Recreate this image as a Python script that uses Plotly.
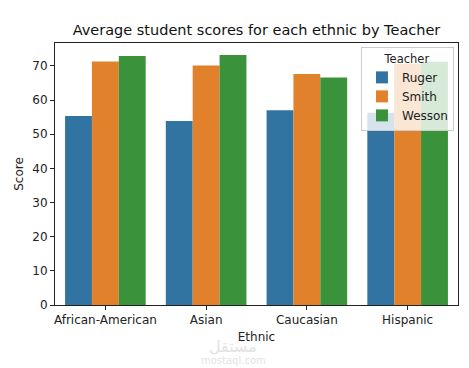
import plotly.graph_objects as go

categories = ["African-American", "Asian", "Caucasian", "Hispanic"]
teachers = ["Ruger", "Smith", "Wesson"]
ruger = [55.3, 53.9, 57.0, 56.3]
smith = [71.3, 70.1, 67.6, 70.6]
wesson = [72.9, 73.2, 66.6, 71.2]
y_ticks = [0, 10, 20, 30, 40, 50, 60, 70]

series = [ruger, smith, wesson]
colors = ["#3274A1", "#E1812C", "#3A923A"]

fig = go.Figure()
for name, vals, c in zip(teachers, series, colors):
    fig.add_trace(go.Bar(x=categories, y=vals, name=name, marker=dict(color=c, line=dict(width=0))))

font = "DejaVu Sans, sans-serif"
W, H = 461, 360
fig.update_layout(
    width=W, height=H,
    margin=dict(l=47, r=11, t=35, b=63, autoexpand=False),
    paper_bgcolor="white", plot_bgcolor="white",
    barmode="group", bargap=0.2, bargroupgap=0,
    font=dict(family=font, size=12, color="#222"),
    title=dict(text="Average student scores for each ethnic by Teacher", x=(47 + 201.5) / W, xanchor="center",
               y=1 - 22 / H, yanchor="middle", font=dict(size=14.5, color="#111")),
    legend=dict(title=dict(text="Teacher", side="top center", font=dict(size=11.5)),
                x=0.99, xanchor="right", y=0.985, yanchor="top",
                bgcolor="rgba(255,255,255,0.8)", bordercolor="#cccccc", borderwidth=1,
                font=dict(size=12), itemwidth=30, tracegroupgap=0),
    showlegend=True,
)
fig.update_xaxes(range=[-0.5, 3.5], showline=True, linecolor="#222", linewidth=1, mirror=True,
                 ticks="outside", ticklen=4, tickcolor="#222", showgrid=False, automargin=False,
                 tickfont=dict(size=12),
                 title=dict(text="Ethnic", standoff=6, font=dict(size=12)))
fig.update_yaxes(range=[0, 76.7], tickvals=y_ticks, showline=True, linecolor="#222", linewidth=1,
                 mirror=True, ticks="outside", ticklen=4, tickcolor="#222", showgrid=False,
                 tickfont=dict(size=12),
                 zeroline=False, automargin=False, title=dict(text="Score", standoff=6, font=dict(size=12)))

fig.add_annotation(text="مستقل", xref="paper", yref="paper", x=0.442, y=-0.158, showarrow=False,
                   yanchor="middle", font=dict(size=16, color="#e3e3e3", family=font))
fig.add_annotation(text="mostaql.com", xref="paper", yref="paper", x=0.442, y=-0.213, showarrow=False,
                   yanchor="middle", font=dict(size=10, color="#e3e3e3", family=font))

fig.write_html("out.html")
